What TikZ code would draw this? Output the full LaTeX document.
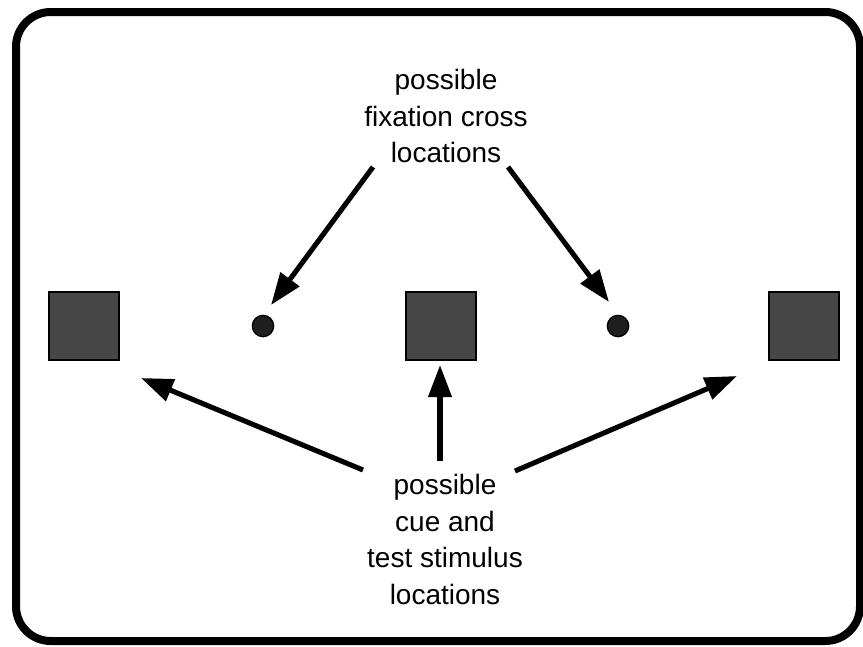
\documentclass[tikz,border=0pt]{standalone}
\usepackage{fontspec}
\setmainfont{Liberation Sans}
\usetikzlibrary{arrows.meta}
\begin{document}
\begin{tikzpicture}[x=0.75pt,y=-0.75pt,
  frame/.style={draw=black,line width=6pt,rounded corners=26pt},
  stim/.style={draw=black,line width=1.5pt,fill=black!72,minimum width=52pt,minimum height=51pt,inner sep=0pt},
  fixdot/.style={circle,draw=black,line width=1pt,fill=black!88,minimum size=16pt,inner sep=0pt},
  label/.style={align=center,font=\fontsize{21}{27.4}\selectfont,inner sep=0pt,anchor=north},
  arr/.style={line width=3.8pt,-{Triangle[length=24pt,width=17pt]}}]
\useasboundingbox (0,0) rectangle (863,646);
\draw[frame] (16,12) rectangle (860,641);
\node[stim] (sqL) at (84,326) {};
\node[stim] (sqM) at (441,326) {};
\node[stim] (sqR) at (804,326) {};
\node[fixdot] (dotL) at (263,326) {};
\node[fixdot] (dotR) at (618,326) {};
\node[label] (fixtext) at (446,69) {possible\\fixation cross\\locations};
\node[label] (cuetext) at (445,474) {possible\\cue and\\test stimulus\\locations};
\coordinate (s1) at (373,167);
\coordinate (t1) at (271,305);
\coordinate (s2) at (508,167);
\coordinate (t2) at (609,302);
\coordinate (s3) at (363,470);
\coordinate (t3) at (141,378);
\coordinate (s4) at (440,461);
\coordinate (t4) at (440,365);
\coordinate (s5) at (515,471);
\coordinate (t5) at (737,376);
\draw[arr] (s1) -- (t1);
\draw[arr] (s2) -- (t2);
\draw[arr] (s3) -- (t3);
\draw[arr] (s4) -- (t4);
\draw[arr] (s5) -- (t5);
\end{tikzpicture}
\end{document}
